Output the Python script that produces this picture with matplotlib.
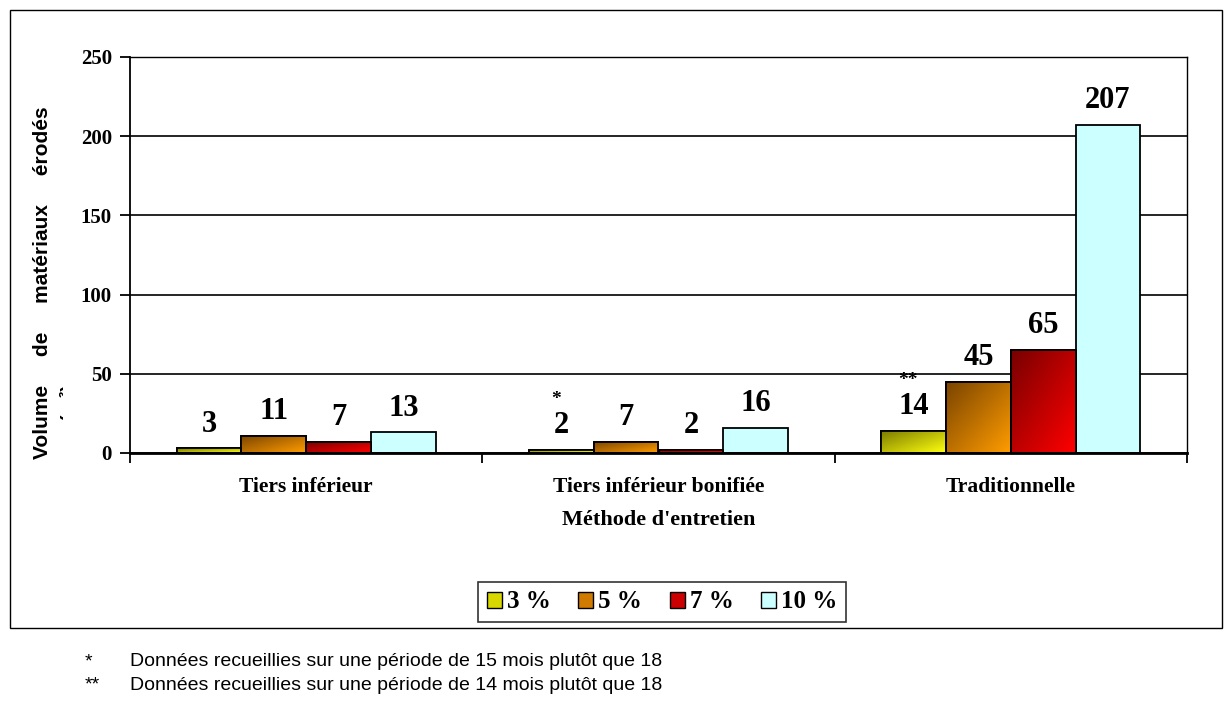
import matplotlib
matplotlib.use("Agg")

import matplotlib.pyplot as plt
import numpy as np
from matplotlib.colors import LinearSegmentedColormap
from matplotlib.patches import Patch, Rectangle
from matplotlib.transforms import Bbox

# --- data -------------------------------------------------------------------
categories = ["Tiers inférieur", "Tiers inférieur bonifiée", "Traditionnelle"]
series = ["3 %", "5 %", "7 %", "10 %"]
vol_3 = [3, 2, 14]
vol_5 = [11, 7, 45]
vol_7 = [7, 2, 65]
vol_10 = [13, 16, 207]
# footnote markers attached to (series index, category index)
markers = {(0, 1): "*", (0, 2): "**"}
footnotes = [
    ("*", "Données recueillies sur une période de 15 mois plutôt que 18"),
    ("**", "Données recueillies sur une période de 14 mois plutôt que 18"),
]

# dark -> light gradient stops per series (None = flat fill)
gradients = [
    ("#7a7a00", "#ffff10"),
    ("#7a4400", "#ff9c00"),
    ("#780000", "#ff0000"),
    None,
]
flat_colors = ["#d8d800", "#d07a00", "#cc0000", "#ccffff"]

SERIF = "Liberation Serif"
SANS = "Liberation Sans"

fig = plt.figure(figsize=(12.32, 7.05), dpi=100)

# outer chart frame
fig.patches.append(Rectangle((10 / 1232, 1 - 628 / 705), 1212 / 1232, 618 / 705,
                             transform=fig.transFigure, fill=False,
                             edgecolor="black", linewidth=1.0, zorder=0))

ax = fig.add_axes([130 / 1232, 1 - 453 / 705, 1057 / 1232, 396 / 705])
ax.set_xlim(0, 3)
ax.set_ylim(0, 250)

values = [vol_3, vol_5, vol_7, vol_10]
n = len(series)
group_w = 0.735
bar_w = group_w / n
x0 = np.arange(len(categories)) + 0.5 - group_w / 2

grad = np.linspace(0, 1, 64)
gx, gy = np.meshgrid(grad, grad)
diag = (gx + gy) / 2  # 0 at top-left, 1 at bottom-right (origin='upper')

for i, vals in enumerate(values):
    xs = x0 + i * bar_w
    bars = ax.bar(xs, vals, width=bar_w, align="edge",
                  color=flat_colors[i], edgecolor="black", linewidth=1.3,
                  zorder=3)
    if gradients[i] is not None:
        cmap = LinearSegmentedColormap.from_list(f"g{i}", gradients[i])
        for b in bars:
            bx, by = b.get_x(), b.get_y()
            bw, bh = b.get_width(), b.get_height()
            im = ax.imshow(diag, cmap=cmap, origin="upper", aspect="auto",
                           extent=(bx, bx + bw, by, by + bh), zorder=3.5,
                           interpolation="bilinear")
            im.set_clip_path(b)
            edge = Rectangle((bx, by), bw, bh, fill=False, edgecolor="black",
                             linewidth=1.3, zorder=4)
            ax.add_patch(edge)
    for j, b in enumerate(bars):
        top = b.get_height()
        cx = b.get_x() + b.get_width() / 2
        ax.annotate(f"{vals[j]}", (cx, top), xytext=(0, 7),
                    textcoords="offset points", ha="center", va="bottom",
                    fontsize=22, fontweight="bold", family=SERIF, zorder=5)
        if (i, j) in markers:
            ax.annotate(markers[(i, j)], (cx, top), xytext=(-4, 30),
                        textcoords="offset points", ha="center", va="bottom",
                        fontsize=14, fontweight="bold", family=SERIF, zorder=5)

# gridlines and frame
ax.set_yticks(np.arange(0, 251, 50))
ax.yaxis.grid(True, color="black", linewidth=1.2, zorder=1)
ax.set_axisbelow(True)
for side, sp in ax.spines.items():
    sp.set_color("black")
    sp.set_linewidth(1.3 if side in ("left", "bottom") else 1.0)
    sp.set_zorder(6)
ax.spines["bottom"].set_linewidth(2.0)

ax.tick_params(axis="y", direction="out", length=7, width=1.3, pad=6)
ax.set_yticklabels([str(int(t)) for t in ax.get_yticks()],
                   fontsize=15, fontweight="bold", family=SERIF)

ax.set_xticks(np.arange(0, 4))
ax.tick_params(axis="x", direction="out", length=7, width=1.3, labelbottom=False)
for k, cat in enumerate(categories):
    ax.text(k + 0.5, -0.085, cat, transform=ax.get_xaxis_transform(),
            ha="center", va="center", fontsize=15.5, fontweight="bold",
            family=SERIF)
ax.text(1.5, -0.17, "Méthode d'entretien",
        transform=ax.get_xaxis_transform(),
        ha="center", va="center", fontsize=16, fontweight="bold",
        family=SERIF)

# y-axis title, second line cut by its text box
fig.text(43 / 1232, 1 - 283 / 705,
         "Volume     de     matériaux     érodés",
         rotation=90, ha="center", va="center", fontsize=15,
         fontweight="bold", family=SANS)
unit = fig.text(68 / 1232, 1 - 420 / 705, "(m³)", rotation=90,
                ha="center", va="bottom", fontsize=14, fontweight="bold",
                family=SANS)
unit.set_clip_box(Bbox.from_extents(0, 0, 63, 705))
unit.set_clip_on(True)

# legend
handles = [Patch(facecolor=flat_colors[i], edgecolor="black", linewidth=1.0)
           for i in range(n)]
leg = fig.legend(handles, series, loc="center", ncol=4,
                 bbox_to_anchor=(662 / 1232, 1 - 602 / 705),
                 prop={"family": SERIF, "weight": "bold", "size": 18},
                 frameon=True, fancybox=False, edgecolor="black",
                 handlelength=0.6, handleheight=0.6, handletextpad=0.2,
                 columnspacing=1.1, borderpad=0.35)
leg.get_frame().set_linewidth(1.2)

# footnotes below the frame
for k, (mark, note) in enumerate(footnotes):
    y = 1 - (662 + 23 * k) / 705
    fig.text(85 / 1232, y, mark, ha="left", va="center", fontsize=14,
             family=SANS)
    fig.text(130 / 1232, y, note, ha="left", va="center", fontsize=14,
             family=SANS)

fig.savefig("out.png", dpi=100)
